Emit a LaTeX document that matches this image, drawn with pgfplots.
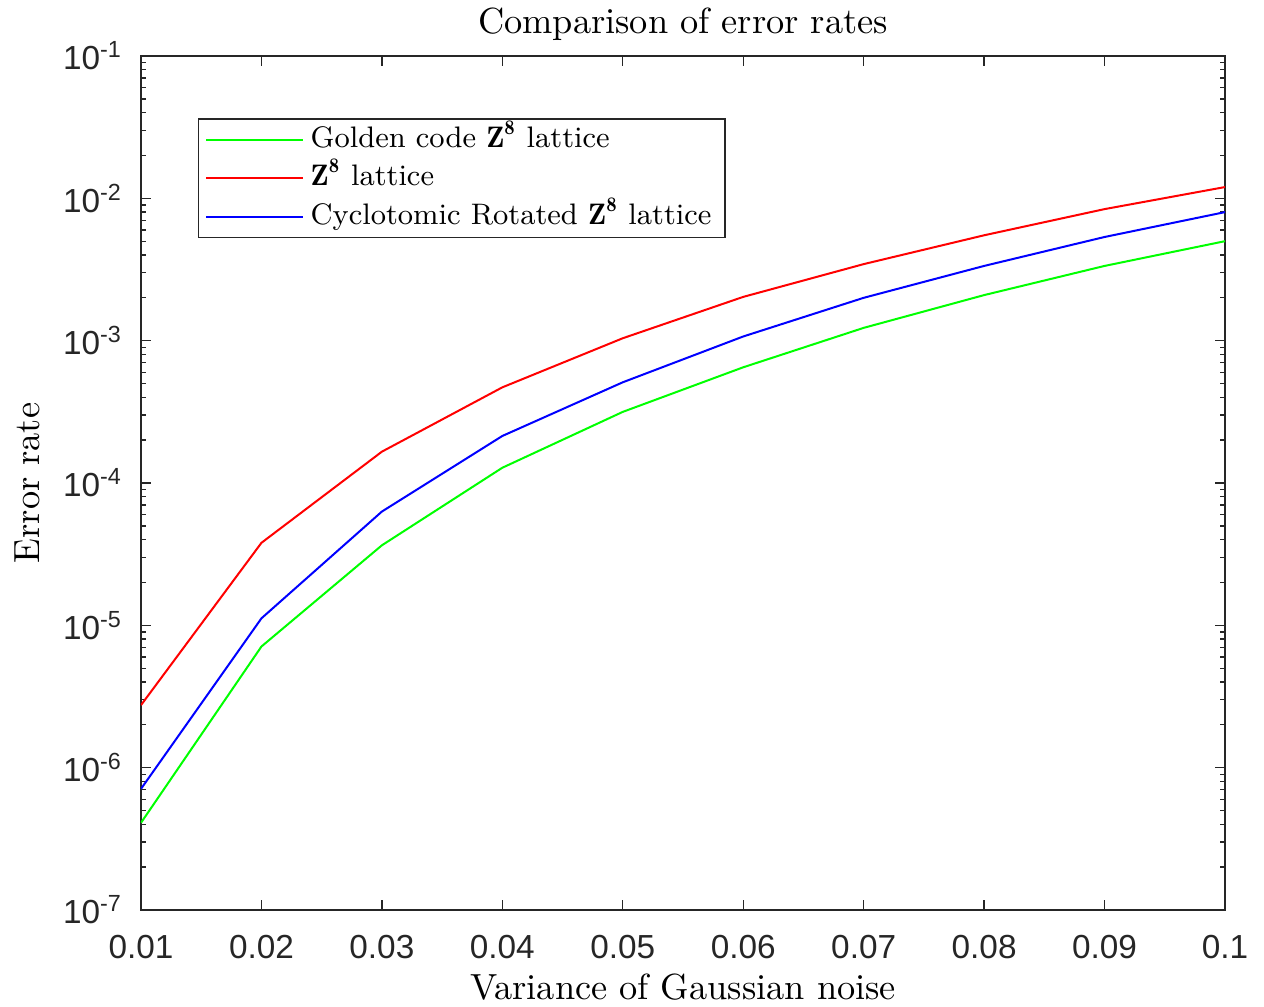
\documentclass[border=0pt]{standalone}
\usepackage{fontspec}
\usepackage{pgfplots}
\pgfplotsset{compat=1.18}
\newfontfamily\tickfont{Liberation Sans}
\definecolor{axgray}{RGB}{38,38,38}
\newcommand{\tl}[1]{\tickfont 10\textsuperscript{#1}}
\begin{document}
\begin{tikzpicture}
\begin{axis}[
    name=ax,
    scale only axis,
    width=325.2pt, height=256.2pt,
    ymode=log,
    xmin=0.01, xmax=0.1, ymin=1e-7, ymax=1e-1,
    axis line style={axgray, line width=0.4pt},
    every tick/.style={axgray, line width=0.4pt},
    major tick length=3pt, minor tick length=1.5pt,
    xtick={0.01,0.02,0.03,0.04,0.05,0.06,0.07,0.08,0.09,0.1},
    xticklabels={0.01,0.02,0.03,0.04,0.05,0.06,0.07,0.08,0.09,0.1},
    ytick={1e-7,1e-6,1e-5,1e-4,1e-3,1e-2,1e-1},
    yticklabels={\tl{-7},\tl{-6},\tl{-5},\tl{-4},\tl{-3},\tl{-2},\tl{-1}},
    xticklabel style={font=\tickfont\fontsize{10}{12}\selectfont, text=axgray, yshift=-4pt},
    yticklabel style={font=\tickfont\fontsize{10}{12}\selectfont, text=axgray, xshift=-2pt},
    title={Comparison of error rates},
    title style={font=\fontsize{10.9}{13}\selectfont, yshift=-5pt},
    xlabel={Variance of Gaussian noise},
    ylabel={Error rate},
    label style={font=\fontsize{10.9}{13}\selectfont},
    xlabel style={yshift=2.2pt},
    legend cell align=left,
    legend style={at={(0.0526,0.927)}, anchor=north west, draw=axgray,
        line width=0.4pt, font=\fontsize{8.9}{11}\selectfont,
        inner xsep=2pt, inner ysep=0.5pt, row sep=0pt,
        nodes={text height=6.5pt, text depth=2pt, inner ysep=1.5pt}},
    legend image code/.code={\draw[#1] (0pt,0pt) -- (29pt,0pt);},
]
\addplot[color=green, line width=0.6pt] coordinates {
    (0.01,4.1e-7) (0.02,7.1e-6) (0.03,3.65e-5) (0.04,1.28e-4) (0.05,3.16e-4)
    (0.06,6.5e-4) (0.07,1.23e-3) (0.08,2.09e-3) (0.09,3.35e-3) (0.1,5.0e-3)
};
\addlegendentry{Golden code $\mathbf{Z^8}$ lattice}
\addplot[color=red, line width=0.6pt] coordinates {
    (0.01,2.75e-6) (0.02,3.8e-5) (0.03,1.66e-4) (0.04,4.7e-4) (0.05,1.04e-3)
    (0.06,2.03e-3) (0.07,3.45e-3) (0.08,5.5e-3) (0.09,8.4e-3) (0.1,1.2e-2)
};
\addlegendentry{$\mathbf{Z^8}$ lattice}
\addplot[color=blue, line width=0.6pt] coordinates {
    (0.01,7.1e-7) (0.02,1.12e-5) (0.03,6.3e-5) (0.04,2.14e-4) (0.05,5.1e-4)
    (0.06,1.07e-3) (0.07,2.0e-3) (0.08,3.35e-3) (0.09,5.35e-3) (0.1,8.0e-3)
};
\addlegendentry{Cyclotomic Rotated $\mathbf{Z^8}$ lattice}
\end{axis}
\pgfresetboundingbox
\path ([xshift=-42.3pt,yshift=-28.8pt]ax.south west) rectangle ([xshift=11.7pt,yshift=16.8pt]ax.north east);
\end{tikzpicture}
\end{document}
